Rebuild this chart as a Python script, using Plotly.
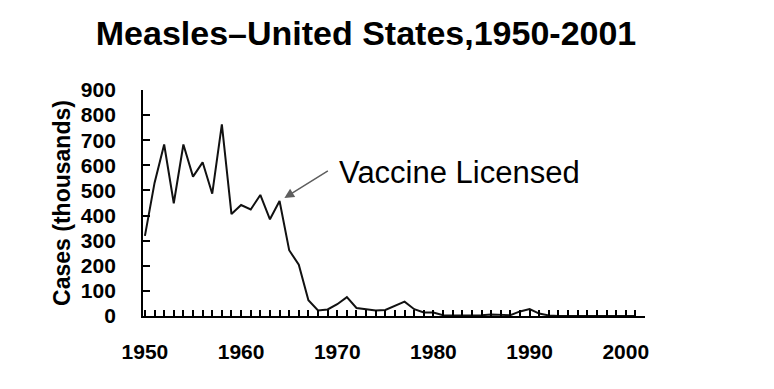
import plotly.graph_objects as go

years = list(range(1950, 2002))
cases_thousands = [
    319, 530, 683, 449, 683, 555, 612, 487, 763, 406,
    442, 424, 482, 385, 458, 262, 204, 63, 22, 26,
    47, 75, 32, 27, 22, 24, 41, 57, 27, 14,
    13.5, 3.1, 1.7, 1.5, 2.6, 2.8, 6.3, 3.7, 3.4, 18.2,
    27.8, 9.6, 2.2, 0.3, 1.0, 0.3, 0.5, 0.14, 0.1, 0.1,
    0.09, 0.12,
]
x_tick_vals = [1950, 1960, 1970, 1980, 1990, 2000]
y_tick_vals = [0, 100, 200, 300, 400, 500, 600, 700, 800, 900]

font_family = "Liberation Sans, Arial, sans-serif"

fig = go.Figure()
fig.add_trace(go.Scatter(
    x=years, y=cases_thousands, mode="lines",
    line=dict(color="#111111", width=2),
    hoverinfo="skip", showlegend=False,
))

fig.update_layout(
    width=774, height=389,
    margin=dict(l=135, r=137, t=82, b=81),
    paper_bgcolor="white", plot_bgcolor="white",
    title=dict(
        text="<b>Measles–United States,1950-2001</b>",
        font=dict(family=font_family, size=34, color="black"),
        xref="container", yref="container",
        x=358/774, y=1 - 25/389, xanchor="center", yanchor="middle",
    ),
    xaxis=dict(
        range=[1949.8, 2002],
        tickvals=x_tick_vals,
        ticktext=[f"<b>{v}</b>" for v in x_tick_vals],
        ticks="inside", ticklen=6, tickcolor="black", tickwidth=1.5,
        minor=dict(dtick=1, tick0=1950, ticks="inside", ticklen=6,
                   tickcolor="black", tickwidth=1.5, showgrid=False),
        showline=True, linecolor="black", linewidth=1.8,
        showgrid=False, zeroline=False,
        tickfont=dict(family=font_family, size=21, color="black"),
        ticklabelstandoff=16,
    ),
    yaxis=dict(
        range=[0, 900],
        tickvals=y_tick_vals,
        ticktext=[f"<b>{v}</b>" for v in y_tick_vals],
        ticks="inside", ticklen=7, tickcolor="black", tickwidth=1.5,
        showline=True, linecolor="black", linewidth=1.8,
        showgrid=False, zeroline=False,
        tickfont=dict(family=font_family, size=21, color="black"),
        ticklabelstandoff=21,
        title=dict(text="<b>Cases (thousands)</b>",
                   font=dict(family=font_family, size=23, color="black"),
                   standoff=4),
    ),
)

# Arrow pointing at the 1964 licensing point
fig.add_annotation(
    x=1964.5, y=470, xref="x", yref="y",
    ax=45, ay=-28, text="",
    showarrow=True, arrowhead=2, arrowsize=1.3, arrowwidth=1.5,
    arrowcolor="#5e5e5e",
)
fig.add_annotation(
    x=1970.0, y=573, xref="x", yref="y",
    text="Vaccine Licensed", showarrow=False,
    xanchor="left", yanchor="middle",
    font=dict(family=font_family, size=31, color="black"),
)

fig.write_html("out.html")
